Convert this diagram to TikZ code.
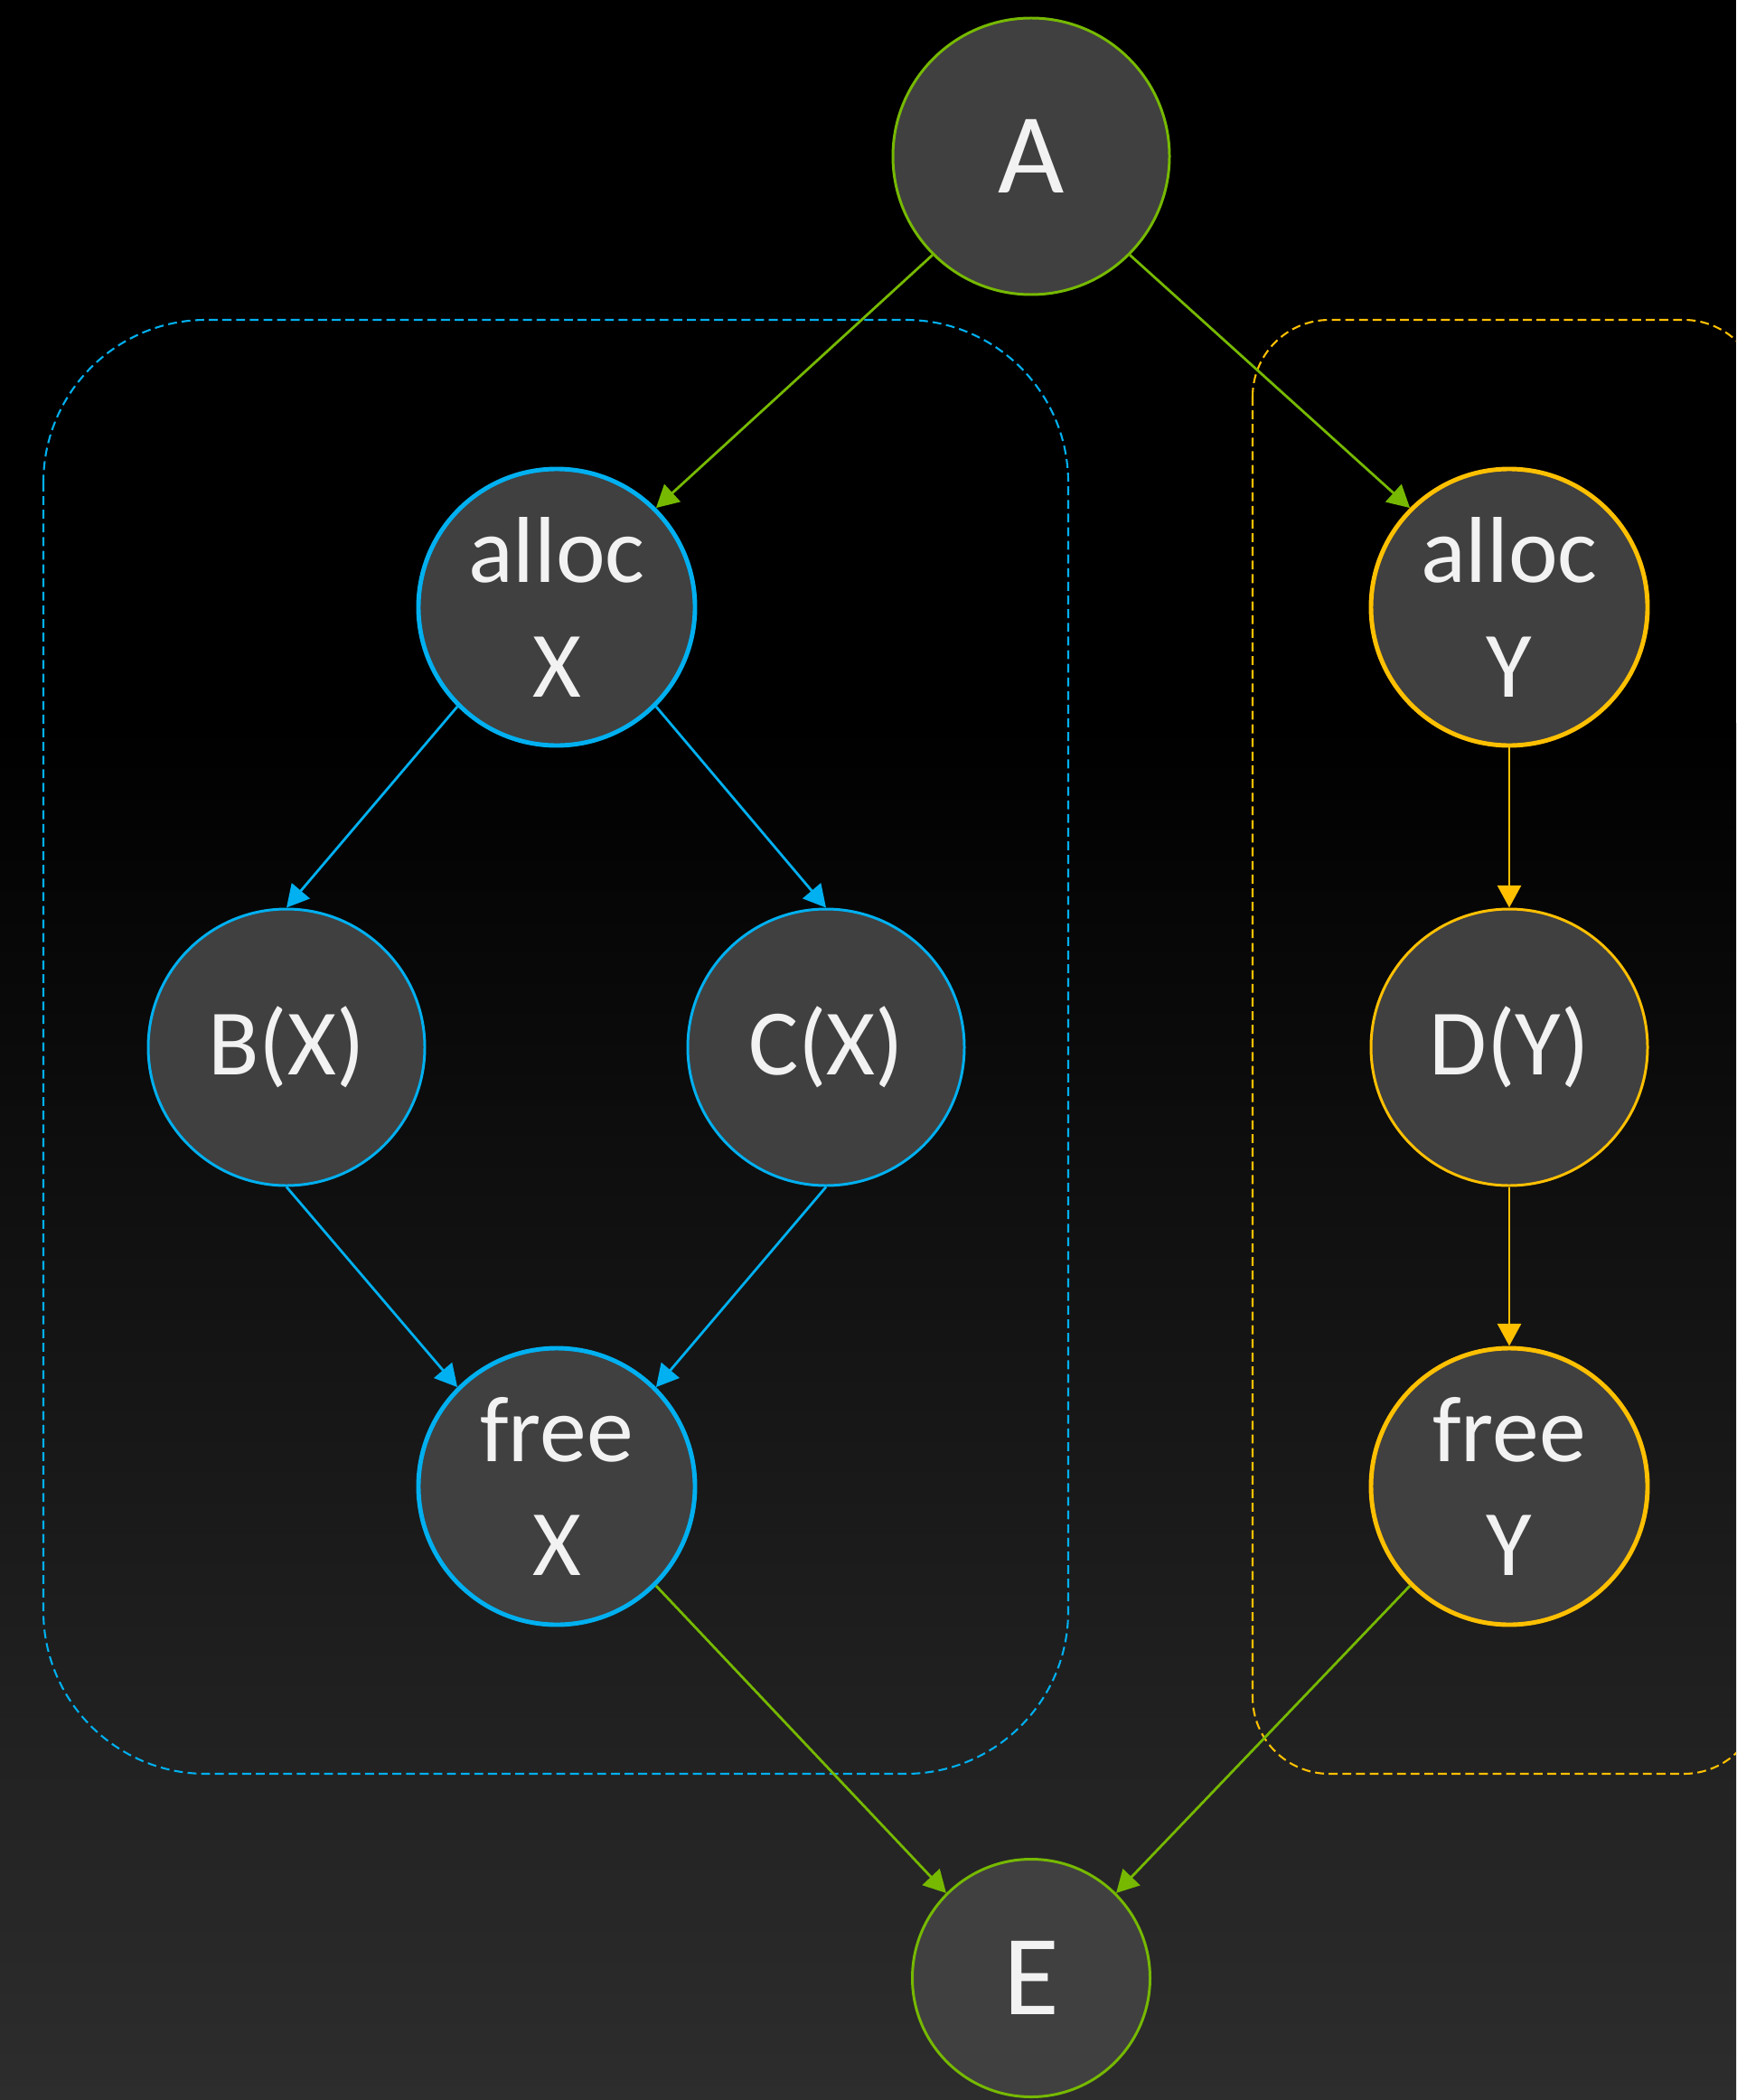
\documentclass[tikz,border=0pt]{standalone}
\usepackage{fontspec}
\setmainfont{Carlito}
\usetikzlibrary{arrows.meta}

\definecolor{nvgreen}{HTML}{76B900}
\definecolor{xblue}{HTML}{00B0F0}
\definecolor{yyellow}{HTML}{FFC000}
\definecolor{nodefill}{HTML}{404040}
\definecolor{textwhite}{HTML}{F2F2F2}
\definecolor{bgbottom}{HTML}{2D2D2D}

\begin{document}
\begin{tikzpicture}[
    task/.style={circle, fill=nodefill, text=textwhite, inner sep=0pt,
      minimum size=3.06cm, align=center, line width=0.85pt,
      font=\fontsize{29.5}{36}\selectfont},
    bigtask/.style={task, line width=1.4pt},
    edge/.style={line width=0.8pt, -{Triangle[length=7pt,width=7.4pt]}},
    group/.style={line width=0.6pt, dash pattern=on 2.8pt off 1.5pt}
  ]
    \useasboundingbox (0,0) rectangle (19.21,-23.24);
    \clip (0,0) rectangle (19.21,-23.24);

    % 背景
    \fill[black] (0,0) rectangle (19.21,-23.24);
    \shade[top color=black, bottom color=bgbottom] (0,-8) rectangle (19.21,-23.24);

    % グループ
    \draw[group, xblue, rounded corners=1.8cm] (0.48,-3.54) rectangle (11.82,-19.63);
    \draw[group, yyellow, rounded corners=0.85cm] (13.86,-3.54) rectangle (19.48,-19.63);

    % ノード
    \node[task, draw=nvgreen, font=\fontsize{36}{43}\selectfont] (A) at (11.41,-1.73) {A};
    \node[bigtask, draw=xblue] (allocX) at (6.16,-6.72) {alloc\\X};
    \node[task, draw=xblue] (BX) at (3.17,-11.59) {B(X)};
    \node[task, draw=xblue] (CX) at (9.14,-11.59) {C(X)};
    \node[bigtask, draw=xblue] (freeX) at (6.16,-16.45) {free\\X};
    \node[bigtask, draw=yyellow] (allocY) at (16.70,-6.72) {alloc\\Y};
    \node[task, draw=yyellow] (DY) at (16.70,-11.59) {D(Y)};
    \node[bigtask, draw=yyellow] (freeY) at (16.70,-16.45) {free\\Y};
    \node[task, draw=nvgreen, minimum size=2.63cm, font=\fontsize{36}{43}\selectfont] (E) at (11.41,-21.89) {E};

    % 矢印
    \draw[edge, nvgreen] (A.south west) -- (allocX.north east);
    \draw[edge, nvgreen] (A.south east) -- (allocY.north west);
    \draw[edge, xblue] (allocX.south west) -- (BX.north);
    \draw[edge, xblue] (allocX.south east) -- (CX.north);
    \draw[edge, xblue] (BX.south) -- (freeX.north west);
    \draw[edge, xblue] (CX.south) -- (freeX.north east);
    \draw[edge, yyellow] (allocY.south) -- (DY.north);
    \draw[edge, yyellow] (DY.south) -- (freeY.north);
    \draw[edge, nvgreen] (freeX.south east) -- (E.north west);
    \draw[edge, nvgreen] (freeY.south west) -- (E.north east);
\end{tikzpicture}
\end{document}
